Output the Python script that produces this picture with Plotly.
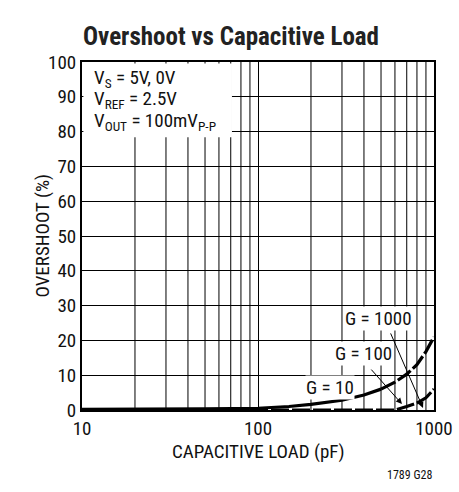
import plotly.graph_objects as go

# Data
cap_g10_solid = [10, 20, 50, 100, 150, 200, 300, 400, 500]
os_g10_solid = [0.2, 0.2, 0.3, 0.5, 1.0, 1.6, 2.8, 4.3, 6.0]
cap_g10_dash = [500, 600, 700, 800, 900, 1000]
os_g10_dash = [6.0, 8.0, 10.3, 13.0, 16.8, 21.0]
cap_g100 = [10, 100, 600, 700, 800, 900, 1000]
os_g100 = [0.0, 0.0, 0.0, 1.0, 2.0, 3.5, 6.0]

x_ticks = [10, 100, 1000]
y_ticks = list(range(0, 101, 10))
x_minor = [20, 30, 40, 50, 60, 70, 80, 90, 200, 300, 400, 500, 600, 700, 800, 900]

FONT = "Liberation Sans Narrow, Roboto Condensed, Arial Narrow, DejaVu Sans Condensed, sans-serif"
FS = 19

fig = go.Figure()
# minor vertical gridlines
for xv in x_minor:
    fig.add_shape(type="line", xref="x", yref="paper", x0=xv, x1=xv, y0=0, y1=1,
                  line=dict(color="black", width=1), layer="below")
# white box behind the condition text
fig.add_shape(type="rect", xref="paper", yref="paper", x0=0.004, x1=0.426, y0=0.784, y1=0.996,
              fillcolor="white", line=dict(width=0), layer="above")

fig.add_trace(go.Scatter(x=cap_g10_solid, y=os_g10_solid, mode="lines",
                         line=dict(color="black", width=3.2), showlegend=False))
fig.add_trace(go.Scatter(x=cap_g10_dash, y=os_g10_dash, mode="lines",
                         line=dict(color="black", width=3.2, dash="16px,3px"), showlegend=False))
fig.add_trace(go.Scatter(x=cap_g100, y=os_g100, mode="lines",
                         line=dict(color="black", width=3.2, dash="18px,3px"), showlegend=False))

fig.update_xaxes(type="log", range=[1, 3], tickvals=x_ticks, ticktext=[str(v) for v in x_ticks],
                 showgrid=True, gridcolor="black", gridwidth=1, automargin=False,
                 showline=True, linecolor="black", linewidth=2, mirror=True,
                 ticks="", tickfont=dict(family=FONT, size=FS, color="#111"), zeroline=False)
fig.update_yaxes(range=[0, 100], tickvals=y_ticks, showgrid=True, gridcolor="black", gridwidth=1,
                 showline=True, linecolor="black", linewidth=2, mirror=True, automargin=False,
                 ticks="", tickfont=dict(family=FONT, size=FS, color="#111"), zeroline=False)

ann = []
ann.append(dict(xref="paper", yref="paper", x=0.423, y=1, yshift=42, showarrow=False,
                text="<b>Overshoot vs Capacitive Load</b>",
                font=dict(family=FONT, size=25, color="#222")))
ann.append(dict(xref="paper", yref="paper", x=0.5, y=0, yshift=-55, showarrow=False,
                text="CAPACITIVE LOAD (pF)", font=dict(family=FONT, size=FS, color="#111")))
ann.append(dict(xref="paper", yref="paper", x=0, y=0.5, xshift=-54, showarrow=False, textangle=-90,
                text="OVERSHOOT (%)", font=dict(family=FONT, size=FS, color="#111")))
ann.append(dict(xref="paper", yref="paper", x=1.0, y=0, yshift=-74, showarrow=False,
                xanchor="right", text="1789 G28", font=dict(family=FONT, size=12, color="#111")))
cond_lines = ["V<sub>S</sub> = 5V, 0V", "V<sub>REF</sub> = 2.5V",
              "V<sub>OUT</sub> = 100mV<sub>P-P</sub>"]
for i, t in enumerate(cond_lines):
    ann.append(dict(xref="paper", yref="paper", x=0, y=1, xanchor="left", yanchor="middle",
                    xshift=10, yshift=-16 - 21.5 * i, showarrow=False, align="left",
                    text=t, font=dict(family=FONT, size=FS, color="#111")))
# curve labels
ann.append(dict(x=2.682, y=26.4, xref="x", yref="y", showarrow=False, text="G = 1000",
                bgcolor="white", borderpad=0, font=dict(family=FONT, size=FS, color="#111")))
ann.append(dict(x=2.597, y=16.1, xref="x", yref="y", showarrow=False, text="G = 100",
                bgcolor="white", borderpad=0, font=dict(family=FONT, size=FS, color="#111")))
ann.append(dict(x=2.409, y=6.6, xref="x", yref="y", showarrow=False, text="G = 10",
                bgcolor="white", borderpad=0, font=dict(family=FONT, size=FS, color="#111")))
# arrows
ann.append(dict(x=2.818, y=1.7, xref="x", yref="y", text="", showarrow=True,
                ax=-32, ay=-36, arrowhead=2, arrowsize=1.2, arrowwidth=1, arrowcolor="black"))
ann.append(dict(x=2.9375, y=0.6, xref="x", yref="y", text="", showarrow=True,
                ax=-33, ay=-76, arrowhead=2, arrowsize=1.2, arrowwidth=1, arrowcolor="black"))

fig.update_layout(width=459, height=492, margin=dict(l=82, r=25, t=62, b=82, autoexpand=False),
                  plot_bgcolor="white", paper_bgcolor="white", annotations=ann,
                  font=dict(family=FONT), hovermode=False)
fig.write_html("out.html", config={"displayModeBar": False},
               post_script="document.body.style.margin='0';document.body.style.overflow='hidden';")
